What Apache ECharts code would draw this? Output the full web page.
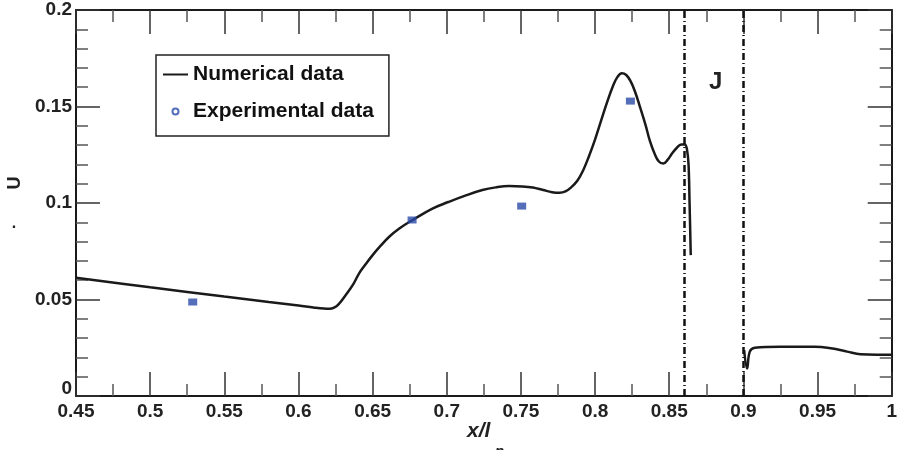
<!DOCTYPE html>
<html>
<head>
<meta charset="utf-8">
<script src="https://cdn.jsdelivr.net/npm/echarts@6/dist/echarts.min.js"></script>
<style>html,body{margin:0;padding:0;background:#fff}#c{width:900px;height:450px}</style>
</head>
<body>
<div id="c"></div>
<script>
// ---- data ----
const xTicks = [0.45, 0.5, 0.55, 0.6, 0.65, 0.7, 0.75, 0.8, 0.85, 0.9, 0.95, 1];
const yTicks = [0, 0.05, 0.1, 0.15, 0.2];
const numX = [0.45, 0.5, 0.55, 0.58, 0.6, 0.61, 0.617, 0.621, 0.624, 0.627, 0.632, 0.637, 0.641, 0.645, 0.65, 0.655, 0.661, 0.668, 0.677, 0.69, 0.701, 0.712, 0.724, 0.733, 0.742, 0.751, 0.758, 0.765, 0.771, 0.776, 0.78, 0.784, 0.788, 0.792, 0.796, 0.8, 0.804, 0.808, 0.812, 0.815, 0.818, 0.821, 0.824, 0.827, 0.83, 0.834, 0.837, 0.84, 0.843, 0.846, 0.849, 0.852, 0.855, 0.858, 0.8605, 0.862, 0.863, 0.8637, 0.8645,
  0.88,
  0.9005, 0.9025, 0.9043, 0.9077, 0.925, 0.948, 0.959, 0.97, 0.979, 0.99, 1.0];
const numY = [0.0613, 0.0563, 0.0515, 0.0487, 0.0469, 0.0459, 0.0453, 0.0452, 0.0458, 0.0475, 0.0525, 0.058, 0.0637, 0.068, 0.073, 0.0775, 0.0824, 0.0868, 0.0912, 0.097, 0.1005, 0.1037, 0.1067, 0.1081, 0.1088, 0.1086, 0.108, 0.1067, 0.1056, 0.1053, 0.106, 0.1082, 0.1115, 0.117, 0.1245, 0.133, 0.1425, 0.152, 0.1605, 0.1652, 0.1672, 0.1663, 0.163, 0.1575, 0.1505, 0.1405, 0.132, 0.1258, 0.1215, 0.1205, 0.1225, 0.1258, 0.1285, 0.1303, 0.1303, 0.1275, 0.12, 0.1, 0.073,
  null,
  0.0238, 0.0143, 0.023, 0.025, 0.0255, 0.0255, 0.0247, 0.023, 0.0216, 0.0214, 0.0214];
const expX = [0.5287, 0.6766, 0.7505, 0.8238];
const expY = [0.0487, 0.0912, 0.0984, 0.1528];
const jumpX = [0.864, 0.9];
const seriesNames = ['Numerical data', 'Experimental data'];

const FONT = 'Liberation Sans, Arial, sans-serif';
const numData = numX.map((x, i) => [x, numY[i] === null ? '-' : numY[i]]);
const expData = expX.map((x, i) => [x, expY[i]]);

const axisCommon = {
  type: 'value',
  axisLine: { show: true, onZero: false, lineStyle: { color: '#1a1a1a', width: 2 } },
  axisTick: { show: true, inside: true, length: 24, lineStyle: { color: '#333', width: 1.5 } },
  minorTick: { show: true, length: 12, lineStyle: { color: '#555', width: 1.5 } },
  splitLine: { show: false },
  minorSplitLine: { show: false }
};

const chart = echarts.init(document.getElementById('c'), null, { renderer: 'canvas' });
chart.setOption({
  backgroundColor: '#fff',
  animation: false,
  grid: { left: 76, right: 6, top: 10, bottom: 54 },
  xAxis: [
    Object.assign({}, axisCommon, {
      position: 'bottom', min: xTicks[0], max: xTicks[xTicks.length - 1], interval: 0.05,
      minorTick: Object.assign({}, axisCommon.minorTick, { splitNumber: 2 }),
      axisLabel: { show: true, margin: 6, fontFamily: FONT, fontWeight: 'bold', fontSize: 19, color: '#222',
        formatter: v => String(+v.toFixed(2)) }
    }),
    Object.assign({}, axisCommon, {
      position: 'top', min: xTicks[0], max: xTicks[xTicks.length - 1], interval: 0.05,
      minorTick: Object.assign({}, axisCommon.minorTick, { splitNumber: 2 }),
      axisLabel: { show: false }
    })
  ],
  yAxis: [
    Object.assign({}, axisCommon, {
      position: 'left', min: yTicks[0], max: yTicks[yTicks.length - 1], interval: 0.05,
      minorTick: Object.assign({}, axisCommon.minorTick, { splitNumber: 5 }),
      axisLabel: { show: true, margin: 4, fontFamily: FONT, fontWeight: 'bold', fontSize: 19, color: '#222',
        formatter: v => v === 0 ? '{z|0}' : '{n|' + String(+v.toFixed(2)) + '}',
        rich: {
          z: { fontFamily: FONT, fontWeight: 'bold', fontSize: 19, color: '#222', padding: [0, 0, 14, 0] },
          n: { fontFamily: FONT, fontWeight: 'bold', fontSize: 19, color: '#222' }
        } }
    }),
    Object.assign({}, axisCommon, {
      position: 'right', min: yTicks[0], max: yTicks[yTicks.length - 1], interval: 0.05,
      minorTick: Object.assign({}, axisCommon.minorTick, { splitNumber: 5 }),
      axisLabel: { show: false }
    })
  ],
  legend: {
    orient: 'vertical', left: 156, top: 55,
    borderColor: '#222', borderWidth: 1.5, padding: [9, 15, 14, 6],
    itemWidth: 25, itemHeight: 6, itemGap: 16,
    textStyle: { fontFamily: FONT, fontWeight: 'bold', fontSize: 21, color: '#111' },
    data: [
      { name: seriesNames[0], itemStyle: { opacity: 0 } },
      { name: seriesNames[1], icon: 'emptyCircle' }
    ]
  },
  series: [
    {
      name: seriesNames[0], type: 'line', xAxisIndex: 0, yAxisIndex: 0,
      data: numData, symbol: 'none', smooth: 0.4,
      lineStyle: { color: '#1a1a1a', width: 2.5 }, itemStyle: { color: '#1a1a1a' },
      markLine: {
        silent: true, symbol: 'none', label: { show: false },
        lineStyle: { color: '#111', width: 2.5, type: [7, 3, 1, 3] },
        data: jumpX.map(x => ({ xAxis: x }))
      },
      z: 3
    },
    {
      name: seriesNames[1], type: 'scatter', xAxisIndex: 0, yAxisIndex: 0,
      data: expData, symbol: 'rect', symbolSize: [9, 7],
      itemStyle: { color: '#2a4aa8' }, z: 4
    }
  ],
  graphic: [
    { type: 'text', left: 709, top: 70, style: { text: 'J', fontFamily: FONT, fontWeight: 'bold', fontSize: 24, fill: '#222' } },
    { type: 'text', x: 467, y: 431, style: { text: 'x/l', fontFamily: FONT, fontWeight: 'bold', fontStyle: 'italic', fontSize: 21, fill: '#222', textVerticalAlign: 'middle' } },
    { type: 'text', x: 495, y: 444, style: { text: 'n', fontFamily: FONT, fontWeight: 'bold', fontStyle: 'italic', fontSize: 15, fill: '#222', textVerticalAlign: 'top' } },
    { type: 'text', x: 15, y: 183, rotation: Math.PI / 2, style: { text: 'U', fontFamily: FONT, fontWeight: 'bold', fontSize: 18, fill: '#222', textAlign: 'center', textVerticalAlign: 'middle' } },
    { type: 'text', x: 14, y: 224, style: { text: '.', fontFamily: FONT, fontWeight: 'bold', fontSize: 16, fill: '#222', textAlign: 'center', textVerticalAlign: 'middle' } }
  ]
});
</script>
</body>
</html>
